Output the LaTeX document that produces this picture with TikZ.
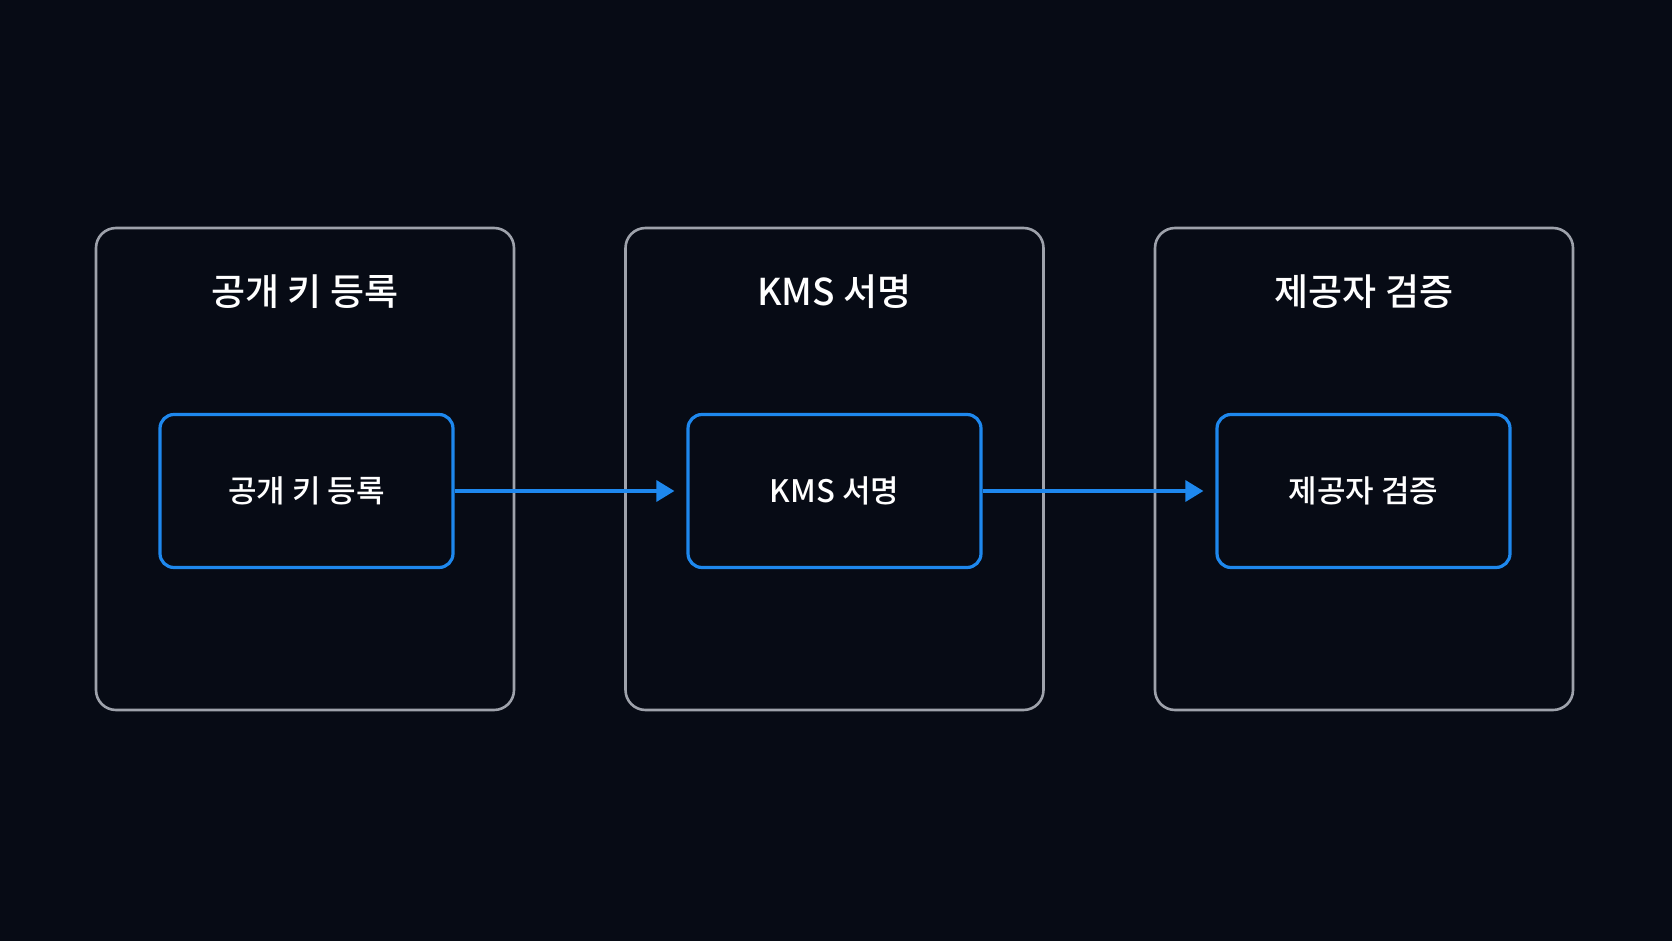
\documentclass[tikz,border=0pt]{standalone}
\usepackage{fontspec}
\newfontfamily\kr{Noto Sans CJK KR Medium}
\usetikzlibrary{arrows.meta,positioning}
\definecolor{bgdark}{HTML}{070B15}
\definecolor{framegray}{HTML}{9EA2AB}
\definecolor{flowblue}{HTML}{1E88EE}
\begin{document}
\begin{tikzpicture}[x=1pt,y=-1pt,
				stage/.style={draw=framegray, line width=2.6pt, rounded corners=20pt, minimum width=418pt, minimum height=482pt},
				title/.style={text=white, font=\kr\fontsize{37}{42}\selectfont},
				task/.style={draw=flowblue, line width=3.2pt, rounded corners=14pt, minimum width=293pt, minimum height=153pt, text=white, font=\kr\fontsize{31}{36}\selectfont},
				flow/.style={draw=flowblue, line width=3.2pt, -{Triangle[length=18pt,width=21pt]}, shorten >=12pt}
				]
				\fill[bgdark] (0,0) rectangle (1672,941);
				\useasboundingbox (0,0) rectangle (1672,941);
				% stages
				\node[stage] (s1) at (305,469) {};
				\node[stage] (s2) at (834.5,469) {};
				\node[stage] (s3) at (1364,469) {};
				\node[title] (t1) at (305,292) {공개 키 등록};
				\node[title] (t2) at (834.5,292) {KMS 서명};
				\node[title] (t3) at (1364,292) {제공자 검증};
				% tasks
				\node[task] (k1) at (306.5,491) {공개 키 등록};
				\node[task] (k2) at (834.5,491) {KMS 서명};
				\node[task] (k3) at (1363.5,491) {제공자 검증};
				\draw[flow] (k1.east) -- (k2.west);
				\draw[flow] (k2.east) -- (k3.west);
			\end{tikzpicture}
\end{document}
